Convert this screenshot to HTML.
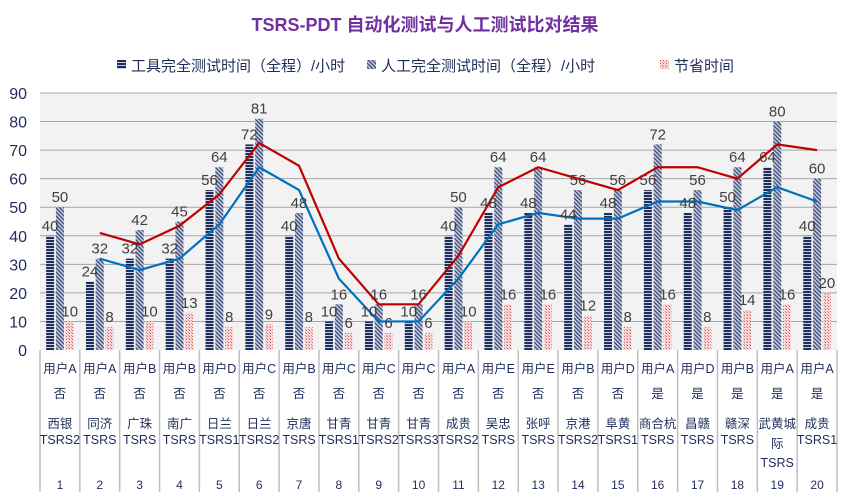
<!DOCTYPE html>
<html><head><meta charset="utf-8">
<style>
body{margin:0;background:#fff;width:851px;height:499px;overflow:hidden;font-family:"Liberation Sans","Noto Sans CJK SC",sans-serif;}
svg text{font-family:"Liberation Sans","Noto Sans CJK SC",sans-serif;}
</style></head>
<body>
<svg id="chart" width="851" height="499" xmlns="http://www.w3.org/2000/svg">
<defs>
<pattern id="pH" width="4" height="3" patternUnits="userSpaceOnUse"><rect width="4" height="3" fill="#1f2d5a"/><rect y="2" width="4" height="1" fill="#c8cde0"/></pattern>
<pattern id="pD" width="4" height="4" patternUnits="userSpaceOnUse"><rect width="4" height="4" fill="#c5cad8"/><path d="M-1,-1 L5,5 M-1,3 L1,5 M3,-1 L5,1" stroke="#3a4a78" stroke-width="1.3"/></pattern>
<pattern id="pX" width="3" height="3" patternUnits="userSpaceOnUse"><rect width="3" height="3" fill="#f6dada"/><rect width="1" height="1" fill="#d25a5a"/><rect x="2" y="2" width="1" height="1" fill="#e08888"/></pattern>
</defs>
<text x="425" y="31" text-anchor="middle" font-size="18" font-weight="bold" fill="#7030a0">TSRS-PDT 自动化测试与人工测试比对结果</text>
<g font-size="15" fill="#1f2d5a">
<g><rect x="117" y="60" width="9" height="9" fill="url(#pH)"/><text x="131" y="71">工具完全测试时间（全程）/小时</text></g>
<g><rect x="367" y="60" width="9" height="9" fill="url(#pD)"/><text x="381" y="71">人工完全测试时间（全程）/小时</text></g>
<g><rect x="660" y="60" width="9" height="9" fill="url(#pX)"/><text x="674" y="71">节省时间</text></g>
</g>
<rect x="40" y="93" width="797" height="257" fill="#f2f2f2"/>
<g id="grid"></g><g id="bars"></g><g id="lines"></g><g id="labels"></g><g id="table"></g>
</svg>
<script>
const categories=["1","2","3","4","5","6","7","8","9","10","11","12","13","14","15","16","17","18","19","20"];
const users=["用户A","用户A","用户B","用户B","用户D","用户C","用户B","用户C","用户C","用户C","用户A","用户E","用户E","用户B","用户D","用户A","用户D","用户B","用户A","用户A"];
const flags=["否","否","否","否","否","否","否","否","否","否","否","否","否","否","否","是","是","是","是","是"];
const lines1=["西银","同济","广珠","南广","日兰","日兰","京唐","甘青","甘青","甘青","成贵","吴忠","张呼","京港","阜黄","商合杭","昌赣","赣深","武黄城","成贵"];
const lines2=["TSRS2","TSRS","TSRS","TSRS","TSRS1","TSRS2","TSRS","TSRS1","TSRS2","TSRS3","TSRS2","TSRS","TSRS","TSRS2","TSRS1","TSRS","TSRS","TSRS","际","TSRS1"];
const lines3=["","","","","","","","","","","","","","","","","","","TSRS",""];
const toolHours=[40,24,32,32,56,72,40,10,10,10,40,48,48,44,48,56,48,50,64,40];
const manualHours=[50,32,42,45,64,81,48,16,16,16,50,64,64,56,56,72,56,64,80,60];
const savedHours=[10,8,10,13,8,9,8,6,6,6,10,16,16,12,8,16,8,14,16,20];
const yTicks=[0,10,20,30,40,50,60,70,80,90];
const NS="http://www.w3.org/2000/svg";
const X0=40,X1=837,Y0=350,Y1=93,YMAX=90;
const cw=(X1-X0)/categories.length;
const y=v=>Y0-(v/YMAX)*(Y0-Y1);
const cx=i=>X0+cw*(i+0.5);
function mk(tag,attrs,parent,txt){const e=document.createElementNS(NS,tag);for(const k in attrs)e.setAttribute(k,attrs[k]);if(txt!==undefined)e.textContent=txt;document.getElementById(parent).appendChild(e);return e;}
yTicks.forEach(t=>{
 if(t>0){const l=mk('line',{x1:X0,x2:X1,y1:y(t),y2:y(t),stroke:'#a6a6a6','stroke-width':1},'grid');
 
 }
 const tx=mk('text',{x:27,y:y(t)+6,'text-anchor':'end','font-size':16,fill:'#1f2d5a'},'grid',String(t));
 
 
});
const series=[[toolHours,'url(#pH)','tool'],[manualHours,'url(#pD)','manual'],[savedHours,'url(#pX)','saved']];
const bw=8,gap=1.8;
categories.forEach((c,i)=>{
 series.forEach((s,k)=>{
  const v=s[0][i];const bx=cx(i)+(k-1)*(bw+gap)-bw/2;
  const r=mk('rect',{x:bx,y:y(v),width:bw,height:Y0-y(v),fill:s[1]},'bars');
  
  
  const t=mk('text',{x:bx+bw/2,y:y(v)-5,'text-anchor':'middle','font-size':15,fill:'#404040'},'labels',String(v));
  
  
 });
});
function ma(arr,col,name){
 let pts=[];for(let i=1;i<arr.length;i++)pts.push(cx(i)+','+y((arr[i]+arr[i-1])/2));
 const p=mk('polyline',{points:pts.join(' '),fill:'none',stroke:col,'stroke-width':2.2},'lines');
 
 
}
ma(toolHours,'#0070c0','trendline-tool');
ma(manualHours,'#c00000','trendline-manual');
// table
for(let i=0;i<=categories.length;i++){
 const l=mk('line',{x1:X0+cw*i,x2:X0+cw*i,y1:350,y2:492,stroke:'#bfbfbf','stroke-width':1.5},'table');
 
 
}
const rows=[[users,373],[flags,398],[lines1,428],[lines2,444],[lines3,464]];
categories.forEach((c,i)=>{
 rows.forEach((r,k)=>{
  if(!r[0][i])return;
  let yy=r[1];
  if(i===18&&k===3)yy=448;
  if(i===18&&k===4)yy=467;
  const t=mk('text',{x:cx(i),y:yy,'text-anchor':'middle','font-size':12.5,fill:'#1f2d5a'},'table',r[0][i]);
  
  
 });
 const n=mk('text',{x:cx(i),y:489,'text-anchor':'middle','font-size':12,fill:'#1f2d5a'},'table',c);
 
 
});
</script>
</body></html>
